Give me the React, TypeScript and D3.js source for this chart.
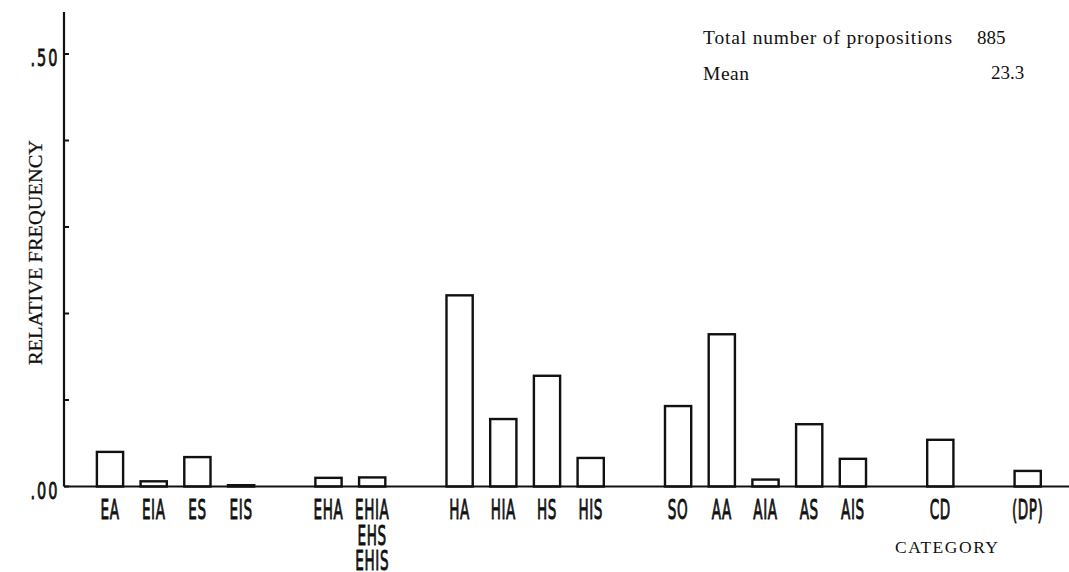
import React, { useEffect } from "react";
import * as d3 from "d3";

// ---- data ----
const groups: string[][] = [
  ["EA", "EIA", "ES", "EIS"],
  ["EHA", "EHIA"],
  ["HA", "HIA", "HS", "HIS"],
  ["SO", "AA", "AIA", "AS", "AIS"],
  ["CD"],
  ["(DP)"],
];
const values: number[] = [
  0.040, 0.006, 0.034, 0.0015,
  0.010, 0.0105,
  0.221, 0.078, 0.128, 0.033,
  0.093, 0.176, 0.008, 0.072, 0.032,
  0.054,
  0.018,
];
// extra label lines under a category
const extraLines: Record<string, string[]> = { EHIA: ["EHS", "EHIS"] };
const yTicks: number[] = [0, 0.1, 0.2, 0.3, 0.4, 0.5];
const yTickLabels: Record<number, string> = { 0: ".00", 0.5: ".50" };
const infoLabels: string[] = ["Total number of propositions", "Mean"];
const infoValues: string[] = ["885", "23.3"];

const W = 1069;
const H = 572;

export default function App() {
  useEffect(() => {
    document.body.style.margin = "0";
  }, []);

  const slots: { key: string; cat: string | null; v: number | null }[] = [];
  let vi = 0;
  groups.forEach((g, gi) => {
    if (gi > 0) slots.push({ key: "gap" + gi, cat: null, v: null });
    g.forEach((c) => {
      slots.push({ key: c, cat: c, v: values[vi++] });
    });
  });

  const x = d3
    .scaleBand<string>()
    .domain(slots.map((s) => s.key))
    .range([88.15, 88.15 + 43.7 * slots.length])
    .paddingInner(0.4)
    .paddingOuter(0.2);
  const y = d3.scaleLinear().domain([0, 0.5]).range([486.5, 54]);

  const axisX = 64;
  const condensed = "'DejaVu Sans', sans-serif";
  const serif = "'Liberation Serif', 'Times New Roman', serif";
  const ink = "#111";

  return (
    <svg
      width={W}
      height={H}
      viewBox={`0 0 ${W} ${H}`}
      style={{ position: "absolute", left: 0, top: 0, background: "#fff" }}
    >
      <rect x={0} y={0} width={W} height={H} fill="#fff" />
      {/* y axis */}
      <line x1={axisX} y1={12} x2={axisX} y2={y(0)} stroke={ink} strokeWidth={2.2} />
      {yTicks.map((t) => (
        <line key={t} x1={axisX} x2={axisX + 5} y1={y(t)} y2={y(t)} stroke={ink} strokeWidth={2} />
      ))}
      {yTicks
        .filter((t) => yTickLabels[t] !== undefined)
        .map((t) => (
          <text
            key={"l" + t}
            transform={`translate(59.5,${y(t) + 12}) scale(0.66,1.08)`}
            textAnchor="end"
            fontFamily={condensed}
            fontSize={22}
            fill={ink}
            stroke={ink}
            strokeWidth={0.8}
            letterSpacing={3}
          >
            {yTickLabels[t]}
          </text>
        ))}
      {/* y title */}
      <text
        transform={`translate(41.5,252.5) rotate(-90)`}
        textAnchor="middle"
        fontFamily={serif}
        fontSize={19.5}
        fill={ink}
        stroke={ink}
        strokeWidth={0.25}
        textLength={225}
        lengthAdjust="spacingAndGlyphs"
      >
        RELATIVE FREQUENCY
      </text>

      {/* bars */}
      {slots
        .filter((s) => s.cat !== null)
        .map((s) => (
          <rect
            key={"b" + s.key}
            x={x(s.key)!}
            y={y(s.v as number)}
            width={x.bandwidth()}
            height={Math.max(0, y(0) - y(s.v as number))}
            fill="#fff"
            stroke={ink}
            strokeWidth={2.4}
          />
        ))}
      {/* baseline */}
      <line x1={axisX} x2={W} y1={y(0)} y2={y(0)} stroke={ink} strokeWidth={2.2} />

      {/* category labels */}
      {slots
        .filter((s) => s.cat !== null)
        .map((s) => {
          const cx = x(s.key)! + x.bandwidth() / 2;
          const lines = [s.cat as string, ...(extraLines[s.cat as string] || [])];
          return lines.map((ln, i) => (
            <text
              key={"t" + s.key + i}
              transform={`translate(${cx},${519 + i * 25.5}) scale(0.6,1.15)`}
              textAnchor="middle"
              fontFamily={condensed}
              fontSize={22.6}
              fill={ink}
              stroke={ink}
              strokeWidth={0.8}
              letterSpacing={1}
            >
              {ln}
            </text>
          ));
        })}

      {/* x title */}
      <text
        x={895}
        y={553}
        fontFamily={serif}
        fontSize={17.5}
        fill={ink}
        textLength={103}
        lengthAdjust="spacing"
      >
        CATEGORY
      </text>

      {/* info block */}
      <text x={703} y={44} fontFamily={serif} fontSize={19.5} fill={ink} textLength={249} lengthAdjust="spacing">
        {infoLabels[0]}
      </text>
      <text x={703} y={80} fontFamily={serif} fontSize={19.5} fill={ink} textLength={46} lengthAdjust="spacing">
        {infoLabels[1]}
      </text>
      <text x={977} y={44} fontFamily={serif} fontSize={19} fill={ink}>
        {infoValues[0]}
      </text>
      <text x={991} y={79} fontFamily={serif} fontSize={19} fill={ink}>
        {infoValues[1]}
      </text>
    </svg>
  );
}
